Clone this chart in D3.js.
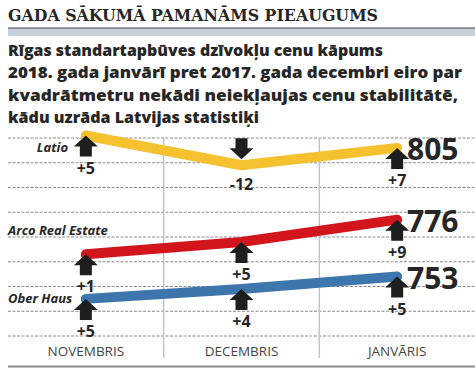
<!DOCTYPE html>
<html>
<head>
<meta charset="utf-8">
<script src="https://cdn.jsdelivr.net/npm/d3@7"></script>
<style>
  html, body { margin: 0; padding: 0; background: #fff; }
  svg { display: block; }
</style>
</head>
<body>
<div id="chart"></div>
<script>
// categories + values
const months   = ["NOVEMBRIS", "DECEMBRIS", "JANVĀRIS"];
const latio    = [810, 798, 805];
const arco     = [762, 767, 776];
const ober     = [744, 748, 753];
const latioChg = [5, -12, 7];
const arcoChg  = [1, 5, 9];
const oberChg  = [5, 4, 5];
const gridVals = [729, 739, 749, 759, 769, 779, 789, 799, 809];

const title = "GADA SĀKUMĀ PAMANĀMS PIEAUGUMS";
const subtitle = [
  "Rīgas standartapbūves dzīvokļu cenu kāpums",
  "2018. gada janvārī pret 2017. gada decembri eiro par",
  "kvadrātmetru nekādi neiekļaujas cenu stabilitātē,",
  "kādu uzrāda Latvijas statistiķi"
];

const W = 475, H = 377;
const INK = "#262626";

const series = [
  { name: "Latio",            vals: latio, chg: latioChg, color: "#f6c12f", lab: { x: 68, dy: 16, anchor: "end" } },
  { name: "Arco Real Estate", vals: arco,  chg: arcoChg,  color: "#d2141d", lab: { x: 8,  dy: -19, anchor: "start" } },
  { name: "Ober Haus",        vals: ober,  chg: oberChg,  color: "#3c76ad", lab: { x: 8,  dy: 4,  anchor: "start" } }
];

const svg = d3.select("#chart").append("svg").attr("width", W).attr("height", H);

// header
svg.append("text").attr("x", 8).attr("y", 21)
  .attr("font-family", "DejaVu Serif").attr("font-weight", "bold").attr("font-size", "17.5px")
  .attr("fill", INK).attr("textLength", 370).attr("lengthAdjust", "spacingAndGlyphs")
  .text(title);
svg.append("rect").attr("x", 8).attr("y", 28).attr("width", W - 8).attr("height", 8).attr("fill", "#c7d1d9");
svg.append("line").attr("x1", 8).attr("x2", W).attr("y1", 28).attr("y2", 28)
  .attr("stroke", "#444").attr("stroke-width", 1);

const subW = [375, 454, 450, 251];
subtitle.forEach((t, i) => {
  svg.append("text").attr("x", 8).attr("y", 56 + i * 22.4)
    .attr("font-family", "Open Sans").attr("font-weight", 800).attr("font-size", "16.5px")
    .attr("fill", INK).attr("textLength", subW[i]).attr("lengthAdjust", "spacingAndGlyphs")
    .text(t);
});

// scales
const x = d3.scaleBand().domain(months).range([8, W]);
const cx = m => x(m) + x.bandwidth() / 2;
const y = d3.scaleLinear().domain([729, 809]).range([336, 138]);

// grid
svg.append("g").selectAll("line").data(gridVals).join("line")
  .attr("x1", 8).attr("x2", W).attr("y1", d => y(d)).attr("y2", d => y(d))
  .attr("stroke", "#8a8a8a").attr("stroke-width", 1).attr("stroke-dasharray", "3,1.5");

svg.append("g").selectAll("line").data(months.slice(1)).join("line")
  .attr("x1", d => x(d)).attr("x2", d => x(d)).attr("y1", 138).attr("y2", 358)
  .attr("stroke", "#b3c7d7").attr("stroke-width", 1.5);

// month labels
svg.append("g").selectAll("text").data(months).join("text")
  .attr("x", d => cx(d)).attr("y", 356).attr("text-anchor", "middle")
  .attr("font-family", "Open Sans").attr("font-size", "13.5px").attr("fill", "#444")
  .text(d => d);

svg.append("line").attr("x1", 8).attr("x2", W).attr("y1", 366.5).attr("y2", 366.5)
  .attr("stroke", "#8c8c8c").attr("stroke-width", 2);

// lines
const line = d3.line().x((d, i) => cx(months[i])).y(d => y(d));
series.forEach(s => {
  svg.append("path").datum(s.vals)
    .attr("fill", "none").attr("stroke", s.color).attr("stroke-width", 10)
    .attr("stroke-linecap", "round").attr("stroke-linejoin", "round")
    .attr("d", line);
});

// arrows + change labels
const upArrow = "M0,0L12,11L6,11L6,21L-6,21L-6,11L-12,11Z";
series.forEach(s => {
  s.vals.forEach((v, i) => {
    const px = cx(months[i]), py = y(v), c = s.chg[i];
    if (c >= 0) {
      svg.append("path").attr("d", upArrow).attr("fill", "#1e1e1e")
        .attr("transform", `translate(${px},${py})`);
      svg.append("text").attr("x", px).attr("y", py + 38).attr("text-anchor", "middle")
        .attr("font-family", "Open Sans").attr("font-weight", "bold").attr("font-size", "16px")
        .attr("fill", INK).text("+" + c);
    } else {
      svg.append("path").attr("d", upArrow).attr("fill", "#1e1e1e")
        .attr("transform", `translate(${px},${py - 6}) scale(1,-1)`);
      svg.append("text").attr("x", px).attr("y", py + 25).attr("text-anchor", "middle")
        .attr("font-family", "Open Sans").attr("font-weight", "bold").attr("font-size", "16px")
        .attr("fill", INK).text(c);
    }
  });

  // series name
  svg.append("text").attr("x", s.lab.x).attr("y", y(s.vals[0]) + s.lab.dy)
    .attr("text-anchor", s.lab.anchor)
    .attr("font-family", "Open Sans").attr("font-weight", "bold").attr("font-style", "italic")
    .attr("font-size", "13px").attr("fill", INK).text(s.name);

  // end value
  const last = s.vals.length - 1;
  svg.append("text").attr("x", 407).attr("y", y(s.vals[last]) + 12)
    .attr("font-family", "Open Sans").attr("font-weight", "bold").attr("font-size", "30px")
    .attr("fill", INK).text(s.vals[last]);
});
</script>
</body>
</html>
